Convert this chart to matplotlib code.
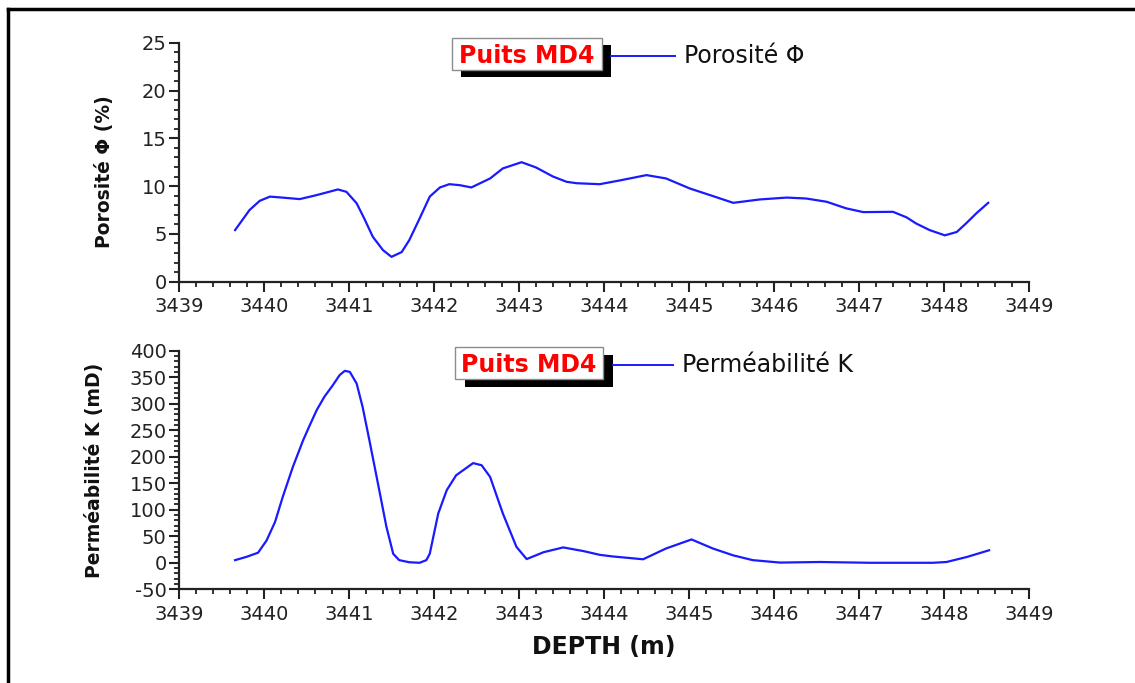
import matplotlib
matplotlib.use("Agg")
import matplotlib.pyplot as plt
import matplotlib.transforms as mtransforms
from matplotlib.patches import Rectangle
from matplotlib.lines import Line2D
from matplotlib.ticker import MultipleLocator

plt.rcParams["axes.unicode_minus"] = False

# depth (m) and porosity (%)
depth_phi = [3439.66, 3439.83, 3439.95, 3440.07, 3440.24, 3440.42, 3440.62, 3440.87,
             3440.97, 3441.09, 3441.18, 3441.28, 3441.40, 3441.50, 3441.62, 3441.71,
             3441.83, 3441.95, 3442.07, 3442.18, 3442.30, 3442.44, 3442.66, 3442.81,
             3443.03, 3443.20, 3443.40, 3443.56, 3443.68, 3443.95, 3444.19, 3444.50,
             3444.73, 3445.01, 3445.28, 3445.52, 3445.83, 3446.15, 3446.38, 3446.62,
             3446.85, 3447.05, 3447.40, 3447.56, 3447.67, 3447.83, 3448.01, 3448.15,
             3448.26, 3448.38, 3448.52]
porosite = [5.4, 7.5, 8.46, 8.9, 8.78, 8.64, 9.06, 9.65,
            9.4, 8.2, 6.6, 4.7, 3.3, 2.6, 3.1, 4.36,
            6.6, 8.9, 9.86, 10.2, 10.1, 9.86, 10.8, 11.85,
            12.5, 11.95, 11.0, 10.45, 10.3, 10.2, 10.6, 11.15,
            10.8, 9.75, 8.96, 8.25, 8.6, 8.8, 8.7, 8.36,
            7.67, 7.28, 7.31, 6.73, 6.1, 5.4, 4.85, 5.2,
            6.1, 7.15, 8.25]

# depth (m) and permeability (mD)
depth_k = [3439.66, 3439.79, 3439.93, 3440.03, 3440.13, 3440.22, 3440.34, 3440.46,
           3440.54, 3440.62, 3440.71, 3440.81, 3440.89, 3440.95, 3441.01, 3441.09,
           3441.16, 3441.24, 3441.34, 3441.44, 3441.52, 3441.59, 3441.71, 3441.83,
           3441.91, 3441.95, 3442.05, 3442.15, 3442.26, 3442.46, 3442.56, 3442.66,
           3442.81, 3442.97, 3443.09, 3443.29, 3443.52, 3443.76, 3443.95, 3444.10,
           3444.46, 3444.73, 3445.03, 3445.28, 3445.52, 3445.75, 3446.07, 3446.54,
           3447.13, 3447.56, 3447.87, 3448.03, 3448.27, 3448.53]
permeabilite = [5, 11, 19, 42, 77, 124, 181, 231,
                260, 288, 313, 335, 354, 362, 360, 338,
                294, 231, 150, 68, 17, 5, 1, 0,
                5, 17, 93, 137, 165, 188, 184, 162,
                93, 30, 7, 20, 29, 22, 15, 12,
                6.6, 27, 44, 27, 14, 5, 0.4, 1.5,
                0, 0, 0, 1.5, 11, 23.6]

xticks = [3439, 3440, 3441, 3442, 3443, 3444, 3445, 3446, 3447, 3448, 3449]

W, H = 1135, 683
fig = plt.figure(figsize=(W / 100, H / 100), dpi=100)
# pixel coordinates (y down) -> figure
pix = mtransforms.Affine2D().scale(1 / W, -1 / H).translate(0, 1) + fig.transFigure

blue = "#1a1aff"
ink = "#222222"


def style_axis(ax, ylim, ymajor, yminor):
    ax.set_xlim(3439, 3449)
    ax.set_ylim(*ylim)
    for s in ["top", "right"]:
        ax.spines[s].set_visible(False)
    for s in ["left", "bottom"]:
        ax.spines[s].set_linewidth(1.6)
        ax.spines[s].set_color(ink)
    ax.set_xticks(xticks)
    ax.xaxis.set_minor_locator(MultipleLocator(0.2))
    ax.yaxis.set_major_locator(MultipleLocator(ymajor))
    ax.yaxis.set_minor_locator(MultipleLocator(yminor))
    ax.tick_params(which="major", direction="out", length=7, width=1.5, color=ink)
    ax.tick_params(which="minor", direction="out", length=3.5, width=1.3, color=ink)
    for lab in ax.get_xticklabels() + ax.get_yticklabels():
        lab.set_fontfamily("DejaVu Sans")
        lab.set_fontsize(14)
        lab.set_color(ink)
    ax.tick_params(axis="x", pad=4)
    ax.tick_params(axis="y", pad=2)


ax1 = fig.add_axes([179 / W, 1 - 281.7 / H, 850 / W, 239 / H])
ax1.plot(depth_phi, porosite, color=blue, lw=1.6)
style_axis(ax1, (0, 25), 5, 1)
ax1.set_ylabel("Porosité Φ (%)", family="DejaVu Sans", weight="bold", fontsize=13.5, color="#111111")
ax1.yaxis.set_label_coords(-0.076, 0.46)

ax2 = fig.add_axes([179 / W, 1 - 589.3 / H, 850 / W, 238.6 / H])
ax2.plot(depth_k, permeabilite, color=blue, lw=1.6)
style_axis(ax2, (-50, 400), 50, 10)
ax2.set_ylabel("Perméabilité K (mD)", family="DejaVu Sans", weight="bold", fontsize=13.5, color="#111111")
ax2.yaxis.set_label_coords(-0.088, 0.5)
ax2.set_xlabel("DEPTH (m)", family="DejaVu Sans", weight="bold", fontsize=17, color="#111111",
               labelpad=8)


def legend_box(x0, y0, x1, y1, dx, dy, line_x1, label):
    fig.add_artist(Rectangle((x0 + dx, y0 + dy), x1 - x0, y1 - y0, transform=pix,
                             facecolor="black", edgecolor="none"))
    fig.add_artist(Rectangle((x0, y0), x1 - x0, y1 - y0, transform=pix,
                             facecolor="white", edgecolor="#8c8c8c", lw=1.0))
    yc = (y0 + y1) / 2 + 2
    fig.text((x0 + x1) / 2, yc, "Puits MD4", transform=pix, ha="center", va="center",
             color="red", weight="bold", fontsize=17, family="DejaVu Sans")
    fig.add_artist(Line2D([x1 + dx, line_x1], [yc, yc], transform=pix, color=blue, lw=1.4))
    fig.text(line_x1 + 9, yc, label, transform=pix, ha="left", va="center",
             color="#111111", fontsize=17, family="DejaVu Sans")


legend_box(452, 38, 602, 70, 9, 7, 675, "Porosité Φ")
legend_box(455, 347, 603, 379, 10, 8, 673, "Perméabilité K")

# frame around the figure (top and left edges visible)
fig.add_artist(Line2D([8, W + 5], [9, 9], transform=pix, color="black", lw=2.5))
fig.add_artist(Line2D([8, 8], [9, H + 5], transform=pix, color="black", lw=2.5))

fig.savefig("out.png", dpi=100)
